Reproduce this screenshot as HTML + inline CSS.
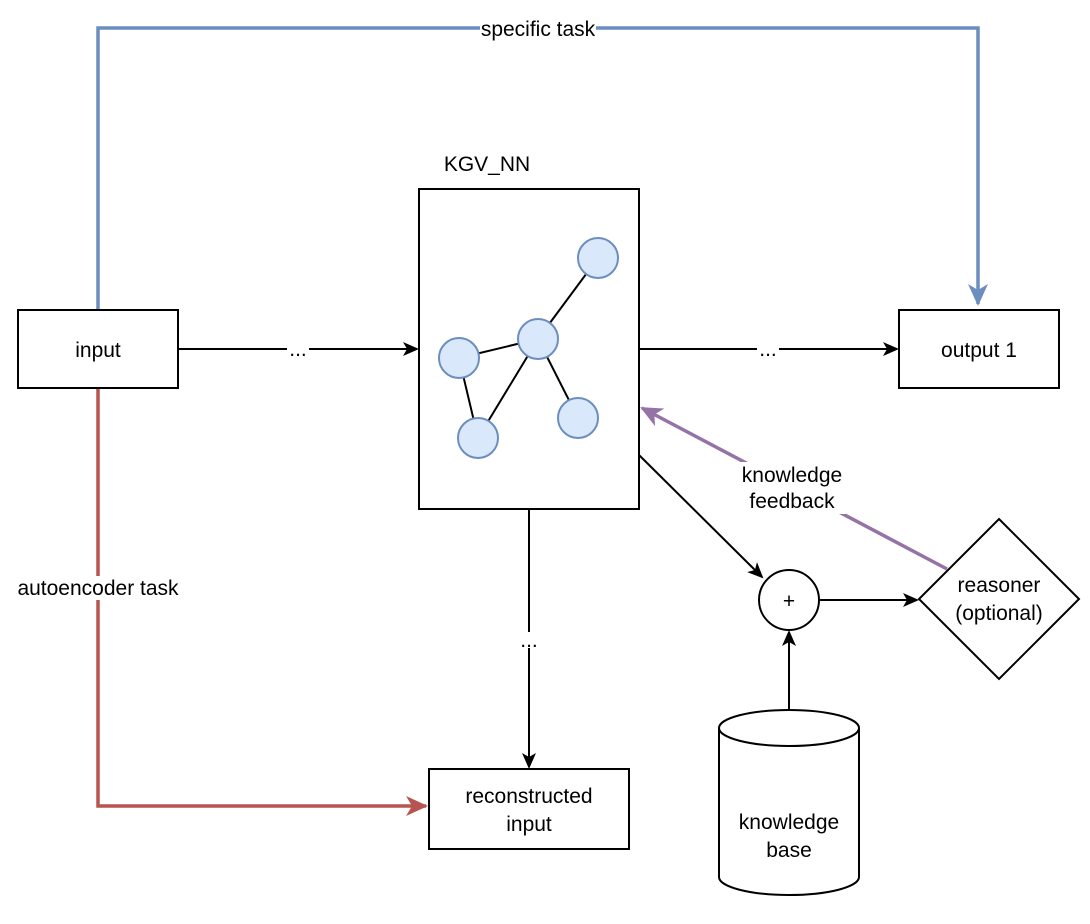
<!DOCTYPE html>
<html><head><style>body{margin:0;background:#fff}svg{display:block}text{font-family:"Liberation Sans",Arial,sans-serif;font-size:21px;fill:#000}</style></head>
<body>
<svg width="1090" height="924" viewBox="0 0 1090 924">
<defs>
<marker id="ab" markerWidth="16" markerHeight="14" refX="14" refY="7" orient="auto" markerUnits="userSpaceOnUse"><path d="M0,0 L16,7 L0,14 L4,7 Z" fill="#000"/></marker>
<marker id="abl" markerWidth="24" markerHeight="20" refX="20" refY="10" orient="auto" markerUnits="userSpaceOnUse"><path d="M0,0 L22,10 L0,20 L6,10 Z" fill="#6c8ebf"/></marker>
<marker id="ar" markerWidth="24" markerHeight="20" refX="20" refY="10" orient="auto" markerUnits="userSpaceOnUse"><path d="M0,0 L22,10 L0,20 L6,10 Z" fill="#b85450"/></marker>
<marker id="ap" markerWidth="24" markerHeight="20" refX="20" refY="10" orient="auto" markerUnits="userSpaceOnUse"><path d="M0,0 L22,10 L0,20 L6,10 Z" fill="#9673a6"/></marker>
</defs>
<g fill="none" stroke-width="3.5">
<polyline points="98,310 98,28 978,28 978,304" stroke="#6c8ebf" marker-end="url(#abl)"/>
<polyline points="98,388 98,806 426,806" stroke="#b85450" marker-end="url(#ar)"/>
<line x1="947" y1="569" x2="642" y2="408" stroke="#9673a6" marker-end="url(#ap)"/>
</g>
<rect x="480" y="17" width="116" height="24" fill="#fff"/>
<text x="538" y="36" text-anchor="middle" font-size="19">specific task</text>
<rect x="14" y="576" width="170" height="24" fill="#fff"/>
<text x="98" y="595" text-anchor="middle" font-size="19">autoencoder task</text>
<rect x="738" y="462" width="108" height="52" fill="#fff"/>
<text x="792" y="482" text-anchor="middle" font-size="20">knowledge</text>
<text x="792" y="508" text-anchor="middle" font-size="20">feedback</text>
<g stroke="#000" stroke-width="2" fill="none">
<line x1="178" y1="349" x2="417" y2="349" marker-end="url(#ab)"/>
<line x1="639" y1="349" x2="897" y2="349" marker-end="url(#ab)"/>
<line x1="529" y1="509" x2="529" y2="767" marker-end="url(#ab)"/>
<line x1="639" y1="455" x2="762" y2="577" marker-end="url(#ab)"/>
<line x1="819" y1="600" x2="917" y2="600" marker-end="url(#ab)"/>
<line x1="789" y1="710" x2="789" y2="632" marker-end="url(#ab)"/>
</g>
<rect x="287" y="340" width="22" height="18" fill="#fff"/><text x="298" y="356" text-anchor="middle" font-size="19">...</text>
<rect x="757" y="340" width="22" height="18" fill="#fff"/><text x="768" y="356" text-anchor="middle" font-size="19">...</text>
<rect x="519" y="632" width="20" height="16" fill="#fff"/><text x="529" y="647" text-anchor="middle" font-size="19">...</text>
<g stroke="#000" stroke-width="2" fill="#fff">
<rect x="18" y="310" width="160" height="78"/>
<rect x="419" y="189" width="220" height="320"/>
<rect x="899" y="310" width="160" height="78"/>
<rect x="429" y="769" width="200" height="80"/>
<circle cx="789" cy="600" r="30"/>
<polygon points="999,519 1079,599 999,679 919,599"/>
<path d="M719,728 L719,877 A70,18 0 0 0 859,877 L859,728 A70,18 0 0 0 719,728 A70,18 0 0 0 859,728"/>
</g>
<g stroke="#000" stroke-width="2">
<line x1="598" y1="258" x2="538" y2="339"/><line x1="538" y1="339" x2="459" y2="358"/><line x1="538" y1="339" x2="478" y2="438"/><line x1="538" y1="339" x2="578" y2="418"/><line x1="459" y1="358" x2="478" y2="438"/>
</g>
<g stroke="#6c8ebf" stroke-width="2" fill="#dae8fc">
<circle cx="598" cy="258" r="20"/><circle cx="538" cy="339" r="20"/><circle cx="459" cy="358" r="20"/><circle cx="478" cy="438" r="20"/><circle cx="578" cy="418" r="20"/>
</g>
<text x="487" y="171" text-anchor="middle">KGV_NN</text>
<text x="98" y="357" text-anchor="middle">input</text>
<text x="979" y="357" text-anchor="middle">output 1</text>
<text x="529" y="803" text-anchor="middle">reconstructed</text>
<text x="529" y="831" text-anchor="middle">input</text>
<text x="789" y="608" text-anchor="middle">+</text>
<text x="999" y="592" text-anchor="middle">reasoner</text>
<text x="999" y="620" text-anchor="middle">(optional)</text>
<text x="789" y="829" text-anchor="middle">knowledge</text>
<text x="789" y="857" text-anchor="middle">base</text>
</svg>
</body></html>
